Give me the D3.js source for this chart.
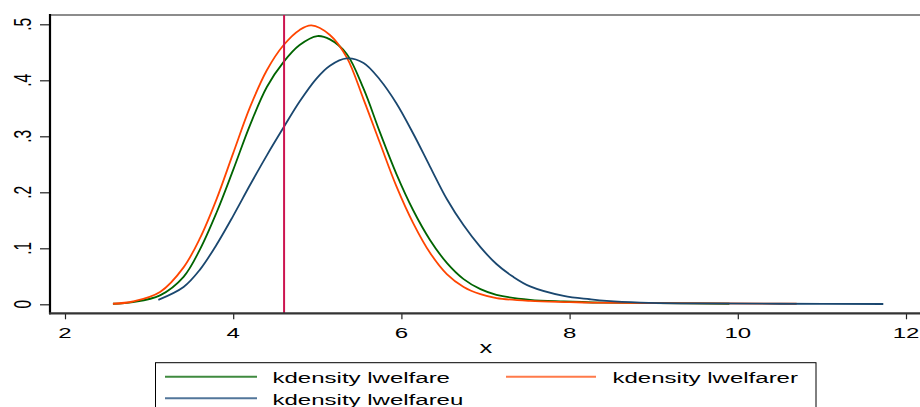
<!DOCTYPE html>
<html><head><meta charset="utf-8">
<script src="https://cdn.jsdelivr.net/npm/d3@7"></script>
<style>
body{margin:0;background:#fff}
svg{display:block}
text{font-family:"Liberation Sans",Arial,Helvetica,sans-serif;fill:#000}
</style></head>
<body><svg id="c" width="920" height="407"></svg>
<script>
// ---- data ----
const xTicks = [2, 4, 6, 8, 10, 12];
const yTicks = [0, 0.1, 0.2, 0.3, 0.4, 0.5];
const yTickLabels = ["0", ".1", ".2", ".3", ".4", ".5"];
const xTitle = "x";
const xLineValue = 4.605;

const seriesNames = ["kdensity lwelfare", "kdensity lwelfarer", "kdensity lwelfareu"];

const lwelfareX = [2.57, 2.81, 3.13, 3.41, 3.605, 3.80, 4.0, 4.2, 4.4, 4.6, 4.79, 5.0, 5.15, 5.35, 5.55, 5.745, 5.94, 6.14, 6.34, 6.54, 6.74, 6.94, 7.13, 7.53, 7.93, 8.4, 9.0, 9.9];
const lwelfareY = [0.001, 0.004, 0.016, 0.049, 0.098, 0.163, 0.240, 0.320, 0.388, 0.433, 0.463, 0.479, 0.473, 0.447, 0.385, 0.307, 0.233, 0.168, 0.115, 0.074, 0.045, 0.027, 0.017, 0.008, 0.005, 0.003, 0.002, 0.001];

const lwelfarerX = [2.57, 2.81, 3.13, 3.41, 3.605, 3.80, 4.0, 4.2, 4.4, 4.6, 4.79, 4.93, 5.15, 5.35, 5.55, 5.745, 5.94, 6.14, 6.34, 6.54, 6.74, 6.94, 7.13, 7.53, 8.0, 8.24, 9.0, 10.7];
const lwelfarerY = [0.001, 0.005, 0.022, 0.066, 0.118, 0.187, 0.270, 0.352, 0.418, 0.463, 0.490, 0.498, 0.481, 0.441, 0.366, 0.288, 0.211, 0.145, 0.092, 0.054, 0.031, 0.018, 0.011, 0.006, 0.004, 0.003, 0.002, 0.001];

const lwelfareuX = [3.11, 3.41, 3.605, 3.80, 4.0, 4.2, 4.4, 4.6, 4.79, 4.99, 5.15, 5.35, 5.55, 5.745, 5.94, 6.14, 6.34, 6.54, 6.74, 6.94, 7.13, 7.33, 7.53, 7.93, 8.24, 8.44, 8.84, 9.5, 10.5, 11.73];
const lwelfareuY = [0.008, 0.031, 0.062, 0.106, 0.158, 0.213, 0.266, 0.316, 0.362, 0.403, 0.426, 0.439, 0.431, 0.401, 0.359, 0.305, 0.246, 0.188, 0.141, 0.102, 0.072, 0.049, 0.032, 0.015, 0.009, 0.006, 0.003, 0.0015, 0.001, 0.0005];

// ---- drawing ----
const svg = d3.select("#c");
const SX = 1.55;          // horizontal stretch of the reference's text
const FS = 15.5;

const x = d3.scaleLinear().domain([2, 12]).range([65, 906]);
const y = d3.scaleLinear().domain([0, 0.5]).range([304.3, 24.3]);

const plotLeft = 50, plotTop = 15, plotBottom = 313.3, plotRight = 925;

const series = [
  {name: seriesNames[0], xs: lwelfareX, ys: lwelfareY, color: "#006400", legend: "#3f8a3f"},
  {name: seriesNames[1], xs: lwelfarerX, ys: lwelfarerY, color: "#ff4500", legend: "#ff7a4a"},
  {name: seriesNames[2], xs: lwelfareuX, ys: lwelfareuY, color: "#1a476f", legend: "#52769a"}
];

// top border
svg.append("line").attr("x1", plotLeft).attr("x2", plotRight).attr("y1", plotTop).attr("y2", plotTop)
  .attr("stroke", "#8c8c8c").attr("stroke-width", 2);

// curves
const line = d3.line().x(d => x(d[0])).y(d => y(d[1])).curve(d3.curveCatmullRom.alpha(0.5));
series.forEach(s => {
  const pts = s.xs.map((v, i) => [v, s.ys[i]]);
  svg.append("path").attr("d", line(pts)).attr("fill", "none")
    .attr("stroke", s.color).attr("stroke-width", 1.8).attr("stroke-linejoin", "round");
});

// vertical reference line
svg.append("line").attr("x1", x(xLineValue)).attr("x2", x(xLineValue))
  .attr("y1", plotTop).attr("y2", plotBottom)
  .attr("stroke", "#cc1450").attr("stroke-width", 2);

// y axis
const yAxis = d3.axisLeft(y).tickValues(yTicks).tickSize(10).tickFormat("");
const gy = svg.append("g").attr("transform", `translate(${plotLeft},0)`).call(yAxis);
gy.select(".domain").remove();
gy.selectAll(".tick line").attr("stroke", "#222").attr("stroke-width", 1.2);
svg.append("line").attr("x1", plotLeft).attr("x2", plotLeft).attr("y1", plotTop - 1).attr("y2", plotBottom + 1)
  .attr("stroke", "#000").attr("stroke-width", 2.2);
yTicks.forEach((v, i) => {
  svg.append("text").attr("text-anchor", "middle").attr("font-size", FS)
    .attr("transform", `translate(30.5,${y(v)}) scale(${SX},1) rotate(-90)`)
    .text(yTickLabels[i]);
});

// x axis
const xAxis = d3.axisBottom(x).tickValues(xTicks).tickSize(6).tickFormat("");
const gx = svg.append("g").attr("transform", `translate(0,${plotBottom})`).call(xAxis);
gx.select(".domain").remove();
gx.selectAll(".tick line").attr("stroke", "#222").attr("stroke-width", 1.2);
svg.append("line").attr("x1", plotLeft - 1).attr("x2", plotRight).attr("y1", plotBottom).attr("y2", plotBottom)
  .attr("stroke", "#333").attr("stroke-width", 2.2);
xTicks.forEach(v => {
  svg.append("text").attr("text-anchor", "middle").attr("font-size", FS)
    .attr("transform", `translate(${x(v)},338) scale(${SX},1)`)
    .text(String(v));
});
svg.append("text").attr("text-anchor", "middle").attr("font-size", 16.5)
  .attr("transform", `translate(486,352.5) scale(${SX},1)`).text(xTitle);

// legend
svg.append("rect").attr("x", 155.5).attr("y", 362.7).attr("width", 660.5).attr("height", 60)
  .attr("fill", "none").attr("stroke", "#000").attr("stroke-width", 1);
const legendPos = [
  {lx1: 165, lx2: 257, ly: 376.7, tx: 272.5, ty: 383.3},
  {lx1: 506, lx2: 596, ly: 376.7, tx: 612.5, ty: 383.3},
  {lx1: 165, lx2: 257, ly: 398.3, tx: 272.5, ty: 405}
];
series.forEach((s, i) => {
  const p = legendPos[i];
  svg.append("line").attr("x1", p.lx1).attr("x2", p.lx2).attr("y1", p.ly).attr("y2", p.ly)
    .attr("stroke", s.legend).attr("stroke-width", 2);
  svg.append("text").attr("font-size", FS)
    .attr("transform", `translate(${p.tx},${p.ty}) scale(${SX},1)`).text(s.name);
});
</script>
</body></html>
